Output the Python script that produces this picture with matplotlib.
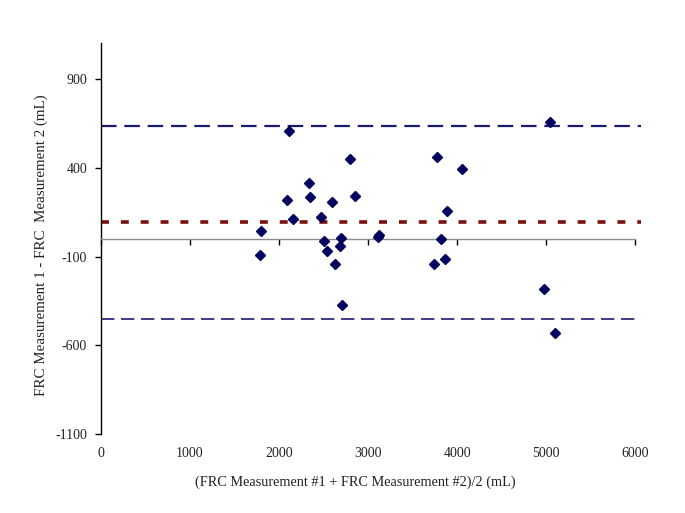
import matplotlib
matplotlib.use('Agg')
import matplotlib.pyplot as plt


# --------------------------------------------------------------------------------------------------

# Bland-Altman data (mL)
avg_frc = [2116, 1798, 1787, 2087, 2154, 2337, 2348, 2472, 2592, 2509, 2536, 2629, 2700, 2682,
           2711, 2794, 2857, 3127, 3116, 3779, 3824, 3891, 3738, 3865, 4053, 5037, 4974, 5093]
diff_frc = [609, 46, -91, 219, 112, 315, 234, 125, 208, -12, -70, -141, 5, -40,
            -370, 451, 240, 24, 12, 463, -2, 155, -141, -113, 393, 658, -282, -531]

mean_diff = 93
upper_loa = 636
lower_loa = -450

x_ticks = [0, 1000, 2000, 3000, 4000, 5000, 6000]
y_ticks = [-1100, -600, -100, 400, 900]


# --------------------------------------------------------------------------------------------------

plt.rcParams['font.family'] = ['Liberation Serif', 'DejaVu Serif']
plt.rcParams['axes.unicode_minus'] = False

fig = plt.figure(figsize=(6.85, 5.13), dpi=100)
ax = fig.add_axes([0.1474, 0.1534, 0.7800, 0.7622])

# Data points
# -----------
ax.plot(avg_frc, diff_frc, linestyle='none', marker='D', markersize=4.6,
        color='#00005e', zorder=5)

# Mean and limits of agreement
# ----------------------------
ax.axhline(upper_loa, xmax=1.01, color='#1c1c6e', lw=1.6, dashes=(7, 3.5), clip_on=False)
ax.axhline(lower_loa, xmax=1.01, color='#1c1c6e', lw=1.2, dashes=(8, 4), clip_on=False)
ax.axhline(mean_diff, xmax=1.01, color='#7a1010', lw=2.6, dashes=(2.2, 3.3), clip_on=False)

# Axes styling
# ------------
ax.set_xlim(0, 6000)
ax.set_ylim(-1100, 1100)
ax.set_xticks(x_ticks)
ax.set_yticks(y_ticks)

ax.spines['top'].set_visible(False)
ax.spines['right'].set_visible(False)
ax.spines['left'].set_color('black')
ax.spines['left'].set_linewidth(1.0)
ax.spines['bottom'].set_position(('data', 0))
ax.spines['bottom'].set_color('#8c8c8c')
ax.spines['bottom'].set_linewidth(1.0)

ax.tick_params(axis='y', direction='out', length=4, width=1, pad=6, labelsize=10,
               labelcolor='#222222')
ax.tick_params(axis='x', direction='out', length=4, width=1, color='black', pad=146,
               labelsize=10, labelcolor='#222222')

ax.set_xlabel('(FRC Measurement #1 + FRC Measurement #2)/2 (mL)', fontsize=10.3,
              color='#222222')
ax.xaxis.set_label_coords(0.476, -0.105)
ax.set_ylabel('FRC Measurement 1 - FRC  Measurement 2 (mL)', fontsize=10.8, color='#222222')
ax.yaxis.set_label_coords(-0.100, 0.483)

plt.savefig('out.png', dpi=100)
plt.close('all')
